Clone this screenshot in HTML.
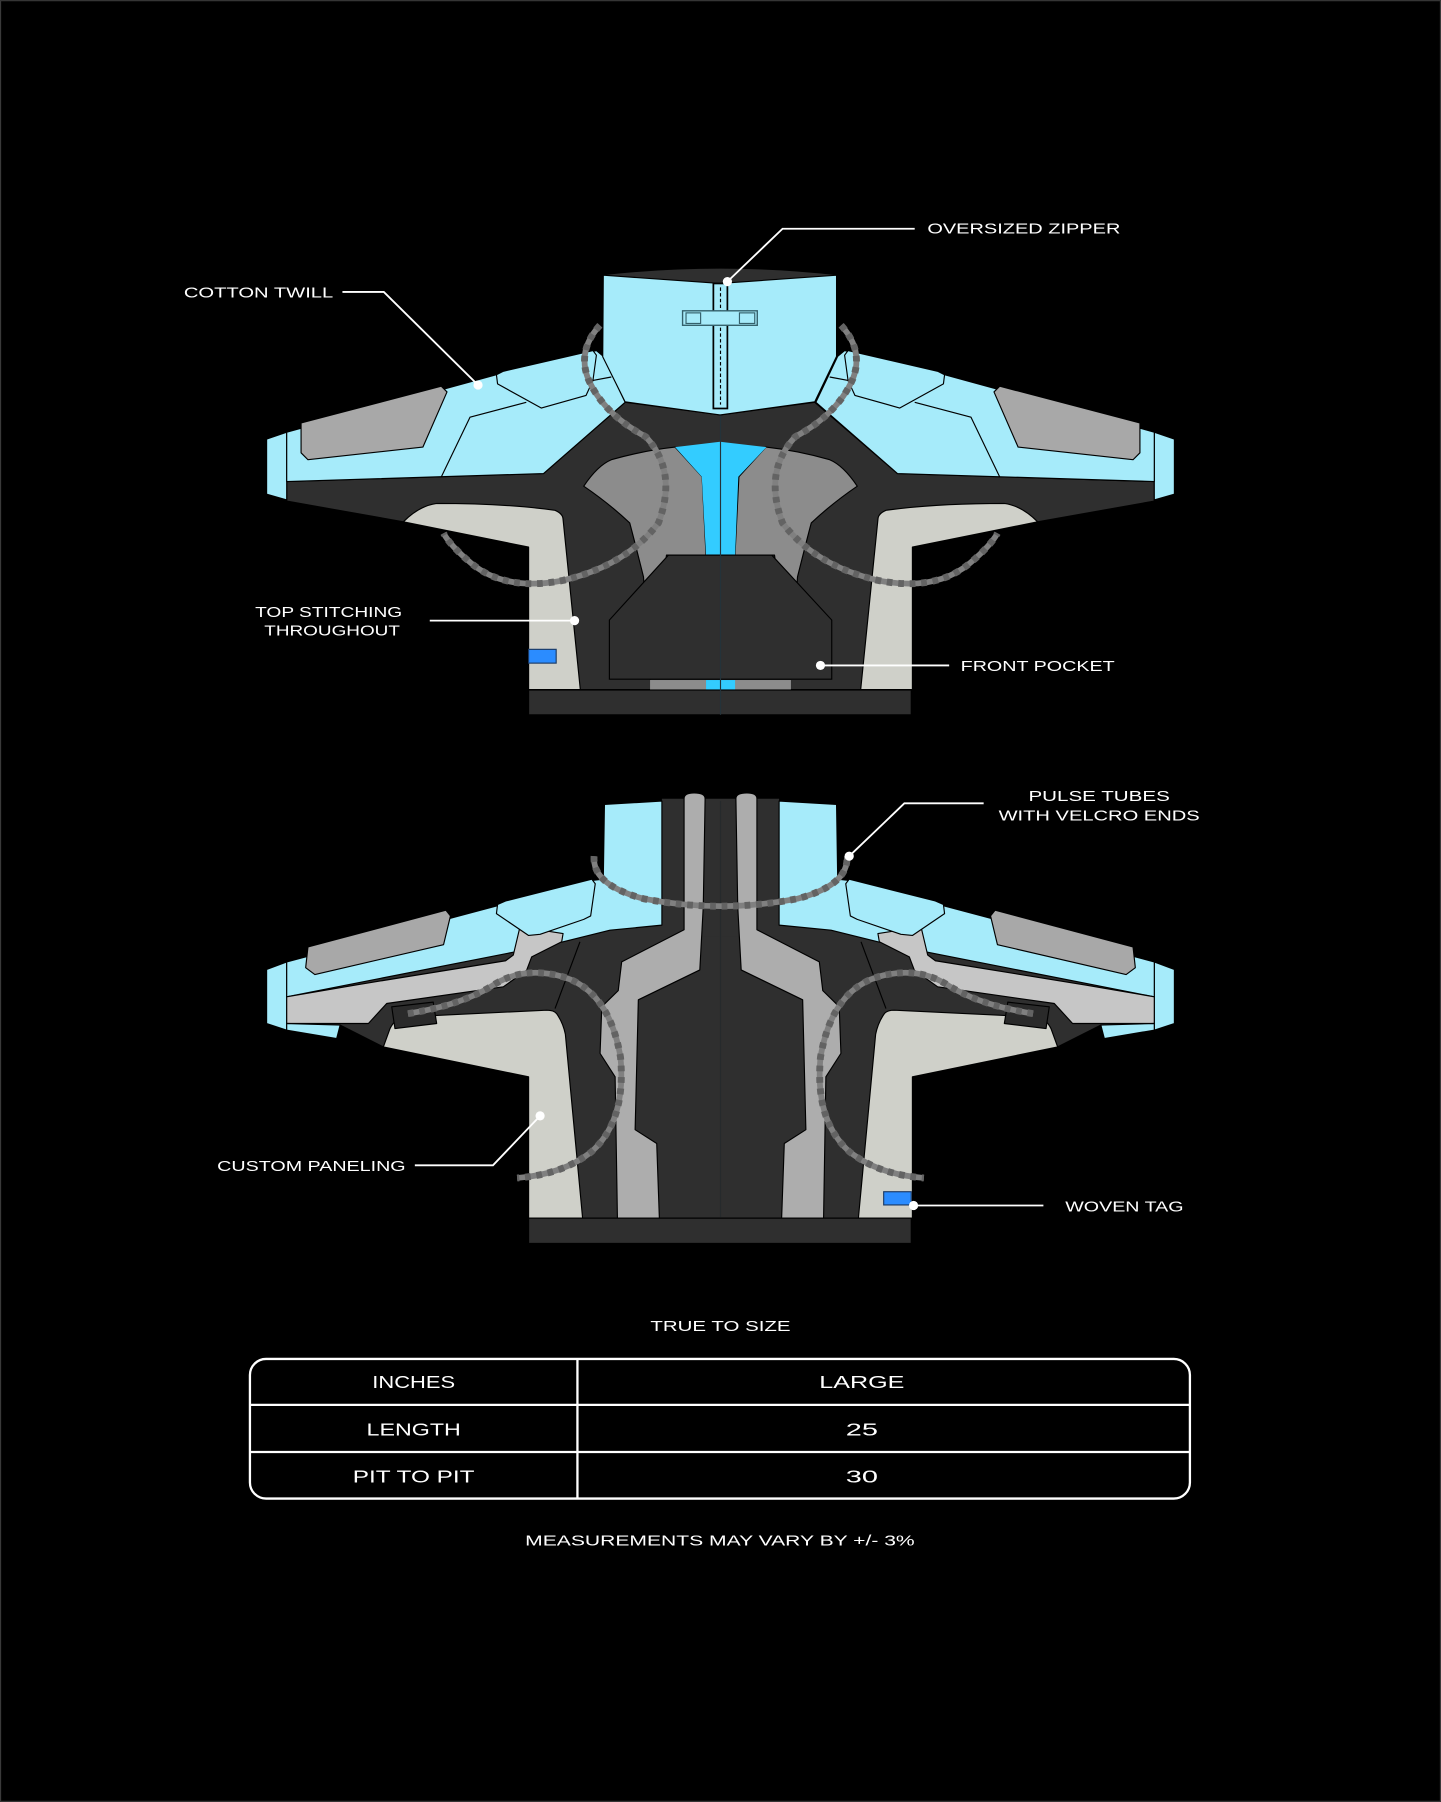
<!DOCTYPE html>
<html><head><meta charset="utf-8"><style>
html,body{margin:0;padding:0;background:#000;}
svg{display:block;}
text{font-family:"Liberation Sans",sans-serif;fill:#fff;}
</style></head><body>
<svg width="1441" height="1802" viewBox="0 0 1254 1568" xmlns="http://www.w3.org/2000/svg">
<rect width="1254" height="1568" fill="#000"/>
<rect x="0.5" y="0.5" width="1253" height="1567" fill="none" stroke="#3a3a3a" stroke-width="1"/>
<defs>
<g id="frontHalf" stroke="#000" stroke-width="1" stroke-linejoin="round">
  <polygon points="232,382 249.5,376 249.5,435 232,430" fill="#a6ebfa"/>
  <polygon points="249.5,376 432,326 519,305 525,310 544,350 473,412 249.5,419" fill="#a6ebfa"/>
  <polygon points="262,368 384,336 389,341 368,389 268,400 262,394" fill="#a8a8a8"/>
  <polyline points="384,415 409,363 458,350" fill="none"/>
  <polyline points="516,331 532,328" fill="none"/>
  <polygon points="432,326 438,323 516,305 519,309 516,331 510,344 471,355 433,334" fill="#a6ebfa"/>
  <path d="M351,454 Q365,440 380,438 Q440,438 483,444 Q490,447 490,452 L505,600 L460,600 L460,476 Z" fill="#cfd0c9"/>
  <path d="M508,423 Q520,405 532,400 Q560,392 587.5,389 L611,414.8 L614.4,483 L580,483 L565.7,591 L560,502 Q552,470 548,455 Q530,438 508,423 Z" fill="#8c8c8c"/>
  <rect x="565.7" y="591.7" width="48.7" height="8.7" fill="#8c8c8c" stroke="none"/>
</g>
<g id="backHalf" stroke="#000" stroke-width="1" stroke-linejoin="round">
  <polygon points="232,843.6 249.5,837 249.5,896.4 232,890.6" fill="#a6ebfa"/>
  <polygon points="249.5,837 516,766 525,765 526,700 576,697 576,805 530.8,809.4 490,819.5 449.6,828 249.5,867.4" fill="#a6ebfa"/>
  <polygon points="268,824 388,792 392,797 386,822 274,848 266,842" fill="#a8a8a8"/>
  <polygon points="249.5,867.4 310,857 440,836 446.7,831 452.5,806.5 490,812.3 488.8,819.5 462.7,832.6 458.3,844.2 438,858.7 336.5,873.2 320.6,890.6 249.5,890.6" fill="#c6c6c6"/>
  <polygon points="249.5,890.6 296,892 293,903.7 249.5,896.4" fill="#a6ebfa"/>
  <polygon points="433,787 440,784 515,765 518,769 514,797 508,800 470,813 460,814 432,795" fill="#a6ebfa"/>
  <path d="M333.6,911 L339.4,895 Q344,886 351,885 L475.7,879 Q482,879 484.4,882 Q490,890 492,900 L507,1060 L460,1060 L460,937 Z" fill="#cfd0c9"/>
  <line x1="504.7" y1="819.5" x2="483" y2="877.6"/>
  <polygon points="340.9,876.1 377,872 380,890.6 343.7,895" fill="#2a2a2a"/>
  <path d="M595.3,695 Q595.3,690 604,690 Q613.6,690 613.6,695 L612,789 L609,844 L555.5,870 L552.7,983 L571.5,995 L573.8,1060 L537.3,1060 L535.3,937 L522.2,916.6 L523.7,876 L538,862 L541,837 L595.3,809 Z" fill="#adadad"/>
</g>
</defs>

<!-- FRONT -->
<polygon points="249.5,419 473,412 544,350 627,361 709,350 781,412 1004.5,419 1004.5,436 903,454 793,476 793,600 460,600 460,476 351,454 249.5,436" fill="#2f2f2f" stroke="#000"/>
<use href="#frontHalf"/>
<use href="#frontHalf" transform="translate(1254,0) scale(-1,1)"/>
<polygon points="587.5,389 626.6,384.4 667,389 642.5,414.8 639.7,483 614.4,483 610.7,414.8" fill="#33ccff"/>
<rect x="614.4" y="591.7" width="25.3" height="8.7" fill="#33ccff"/>
<polygon points="581.7,483 671.6,483 723.8,539.5 723.8,591 530.3,591 530.3,539.5" fill="#2f2f2f" stroke="#000"/>
<rect x="460" y="600.4" width="333" height="21.6" fill="#2f2f2f" stroke="#000"/>
<line x1="627" y1="361" x2="627" y2="622" stroke="#24333a" stroke-width="1"/>
<path d="M525,239.4 Q627,228 728,239.4 L728,250 L525,250 Z" fill="#2f2f2f"/>
<polygon points="525,239.4 626.6,246.6 728,239.4 728,310 709,349.6 626.6,361 544,349.6 524.5,310.4" fill="#a6ebfa" stroke="#000"/>
<rect x="620.8" y="246.6" width="12.2" height="108.8" fill="#a6ebfa" stroke="#000" stroke-width="1.5"/>
<line x1="627" y1="250" x2="627" y2="352" stroke="#000" stroke-dasharray="3 2"/>
<rect x="594" y="270.4" width="65" height="12.6" fill="#a6ebfa" stroke="#34606b" stroke-width="1.2"/>
<rect x="597" y="272.2" width="12.7" height="9.2" fill="#a6ebfa" stroke="#34606b"/>
<rect x="643.5" y="272.2" width="13.3" height="9.2" fill="#a6ebfa" stroke="#34606b"/>
<rect x="460" y="565" width="24" height="12" fill="#2b8cff" stroke="#1a3a66"/>
<!-- front tubes -->
<g fill="none" stroke-linecap="butt">
<path d="M522,283 Q502,305 512,330 Q525,360 562,380 Q590,410 573,455 Q545,492 490,505 Q440,515 410,490 Q392,475 386,464" stroke="#808080" stroke-width="5"/>
<path d="M522,283 Q502,305 512,330 Q525,360 562,380 Q590,410 573,455 Q545,492 490,505 Q440,515 410,490 Q392,475 386,464" stroke="#636363" stroke-width="6" stroke-dasharray="5 5"/>
<path d="M732,283 Q752,305 742,330 Q729,360 692,380 Q664,410 681,455 Q709,492 764,505 Q814,515 844,490 Q862,475 868,464" stroke="#808080" stroke-width="5"/>
<path d="M732,283 Q752,305 742,330 Q729,360 692,380 Q664,410 681,455 Q709,492 764,505 Q814,515 844,490 Q862,475 868,464" stroke="#636363" stroke-width="6" stroke-dasharray="5 5"/>
</g>

<!-- BACK -->
<polygon points="249.5,896 296,892 333.6,911 460,937 460,1060 793,1060 793,937 920.4,911 958,892 1004.5,896 1004.5,860 780,810 627,790 474,810 249.5,860" fill="#2f2f2f" stroke="#000"/>
<rect x="576" y="695" width="102" height="120" fill="#2f2f2f"/>
<use href="#backHalf"/>
<use href="#backHalf" transform="translate(1254,0) scale(-1,1)"/>
<line x1="627" y1="697" x2="627" y2="1082" stroke="#262a2c"/>
<rect x="460" y="1060" width="333" height="22" fill="#2f2f2f" stroke="#000"/>
<rect x="769" y="1037" width="24" height="11.5" fill="#2b8cff" stroke="#1a3a66"/>
<g fill="none">
<path d="M517,745 Q515,770 560,782 Q627,795 694,782 Q739,770 737,745" stroke="#808080" stroke-width="5"/>
<path d="M517,745 Q515,770 560,782 Q627,795 694,782 Q739,770 737,745" stroke="#636363" stroke-width="6" stroke-dasharray="5 5"/>
<path d="M355,882 Q400,875 428,858 Q455,840 490,850 Q530,862 540,920 Q545,975 515,1002 Q490,1022 450,1025" stroke="#808080" stroke-width="5"/>
<path d="M355,882 Q400,875 428,858 Q455,840 490,850 Q530,862 540,920 Q545,975 515,1002 Q490,1022 450,1025" stroke="#636363" stroke-width="6" stroke-dasharray="5 5"/>
<path d="M899,882 Q854,875 826,858 Q799,840 764,850 Q724,862 714,920 Q709,975 739,1002 Q764,1022 804,1025" stroke="#808080" stroke-width="5"/>
<path d="M899,882 Q854,875 826,858 Q799,840 764,850 Q724,862 714,920 Q709,975 739,1002 Q764,1022 804,1025" stroke="#636363" stroke-width="6" stroke-dasharray="5 5"/>
</g>

<!-- leaders -->
<g stroke="#fff" stroke-width="1.6" fill="none">
<polyline points="633,245 681,199 796,199"/>
<polyline points="298,254 334,254 416,335"/>
<polyline points="374,540 500,540"/>
<polyline points="714,579 826,579"/>
<polyline points="739,745 787,699 856,699"/>
<polyline points="361,1014 429,1014 470,971"/>
<polyline points="795,1049 908,1049"/>
</g>
<g fill="#fff">
<circle cx="633" cy="245" r="4"/><circle cx="416" cy="335" r="4"/><circle cx="500" cy="540" r="4"/>
<circle cx="714" cy="579" r="4"/><circle cx="739" cy="745" r="4"/><circle cx="470" cy="971" r="4"/><circle cx="795" cy="1049" r="4"/>
</g>
<g font-size="13">
<text x="807" y="203" textLength="168" lengthAdjust="spacingAndGlyphs">OVERSIZED ZIPPER</text>
<text x="160" y="259" textLength="130" lengthAdjust="spacingAndGlyphs">COTTON TWILL</text>
<text x="222" y="537" textLength="128" lengthAdjust="spacingAndGlyphs">TOP STITCHING</text>
<text x="230" y="553" textLength="118" lengthAdjust="spacingAndGlyphs">THROUGHOUT</text>
<text x="836" y="584" textLength="134" lengthAdjust="spacingAndGlyphs">FRONT POCKET</text>
<text x="895" y="697" textLength="123" lengthAdjust="spacingAndGlyphs">PULSE TUBES</text>
<text x="869" y="714" textLength="175" lengthAdjust="spacingAndGlyphs">WITH VELCRO ENDS</text>
<text x="189" y="1019" textLength="164" lengthAdjust="spacingAndGlyphs">CUSTOM PANELING</text>
<text x="927" y="1054" textLength="103" lengthAdjust="spacingAndGlyphs">WOVEN TAG</text>
<text x="566" y="1158" textLength="122" lengthAdjust="spacingAndGlyphs">TRUE TO SIZE</text>
<text x="457" y="1345" textLength="339" lengthAdjust="spacingAndGlyphs">MEASUREMENTS MAY VARY BY +/- 3%</text>
</g>
<rect x="217.5" y="1182.5" width="818" height="121.5" rx="14" fill="none" stroke="#fff" stroke-width="2"/>
<line x1="218" y1="1222.5" x2="1035" y2="1222.5" stroke="#fff" stroke-width="2"/>
<line x1="218" y1="1263.5" x2="1035" y2="1263.5" stroke="#fff" stroke-width="2"/>
<line x1="502.5" y1="1183" x2="502.5" y2="1304" stroke="#fff" stroke-width="2"/>
<g font-size="15">
<text x="324" y="1208" textLength="72" lengthAdjust="spacingAndGlyphs">INCHES</text>
<text x="713" y="1208" textLength="74" lengthAdjust="spacingAndGlyphs">LARGE</text>
<text x="319" y="1249" textLength="82" lengthAdjust="spacingAndGlyphs">LENGTH</text>
<text x="736" y="1249" textLength="28" lengthAdjust="spacingAndGlyphs">25</text>
<text x="307" y="1290" textLength="106" lengthAdjust="spacingAndGlyphs">PIT TO PIT</text>
<text x="736" y="1290" textLength="28" lengthAdjust="spacingAndGlyphs">30</text>
</g>
</svg>
</body></html>
